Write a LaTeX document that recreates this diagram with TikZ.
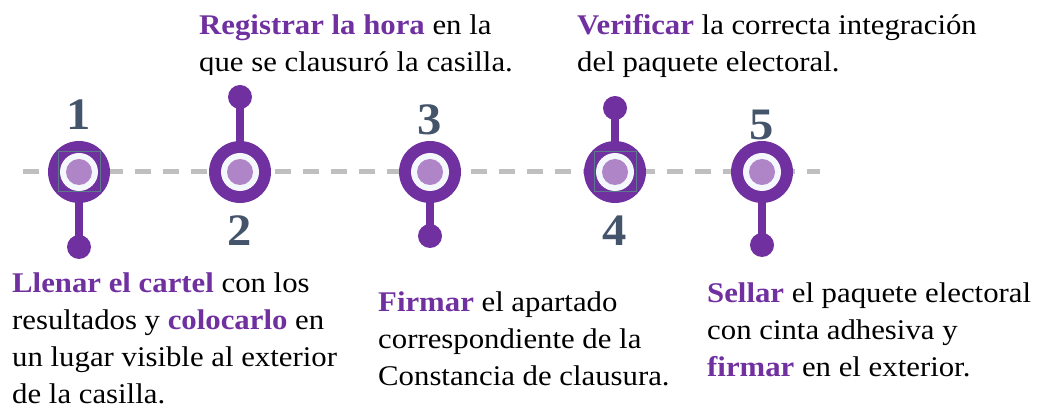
\documentclass[tikz,border=0pt]{standalone}
\usepackage{fontspec}
\setmainfont[FakeStretch=1.08]{Liberation Serif}
\usetikzlibrary{positioning}

\definecolor{morado}{HTML}{7030A0}
\definecolor{moradoclaro}{HTML}{AF85C7}
\definecolor{blancoaro}{HTML}{F4F7FC}
\definecolor{gristexto}{HTML}{44546A}
\definecolor{grislinea}{HTML}{BFBFBF}
\definecolor{marco}{HTML}{5A7A8A}

\newcommand{\resalta}[1]{\textbf{\color{morado}#1}}

\tikzset{
  hito/.style={circle, fill=morado, minimum size=62pt, inner sep=0pt},
  aro/.style={circle, fill=blancoaro, minimum size=38pt, inner sep=0pt},
  centro/.style={circle, fill=moradoclaro, minimum size=26pt, inner sep=0pt},
  punta/.style={circle, fill=morado, minimum size=24pt, inner sep=0pt},
  tallo/.style={draw=morado, line width=8pt, shorten <=-2pt, shorten >=-2pt},
  numero/.style={inner sep=0pt, text=gristexto, font=\fontsize{45}{45}\selectfont\bfseries},
  texto/.style={anchor=base west, inner sep=0pt, align=left, font=\fontsize{28.5}{36.7}\selectfont},
  marcobox/.style={draw=marco, line width=1pt, minimum width=42pt, minimum height=40pt, inner sep=0pt}
}

\begin{document}
\begin{tikzpicture}[x=1pt, y=1pt]
  \useasboundingbox (0,0) rectangle (1041,409);

  % Dashed time line
  \coordinate (inicio) at (23,237);
  \coordinate (fin) at (820,237);
  \draw[grislinea, line width=5pt, dash pattern=on 16pt off 12pt] (inicio) -- (fin);

  % Milestones
  \node[hito] (h1) at (79,237) {};
  \node[hito] (h2) at (240,237) {};
  \node[hito] (h3) at (430,237) {};
  \node[hito] (h4) at (615,237) {};
  \node[hito] (h5) at (762,237) {};

  % End dots and stems
  \node[punta] (p1) at (79,162) {};
  \node[punta] (p2) at (240,312) {};
  \node[punta] (p3) at (430,173) {};
  \node[punta] (p4) at (615,301) {};
  \node[punta] (p5) at (762,164) {};
  \draw[tallo] (h1) -- (p1);
  \draw[tallo] (h2) -- (p2);
  \draw[tallo] (h3) -- (p3);
  \draw[tallo] (h4) -- (p4);
  \draw[tallo] (h5) -- (p5);

  % Inner rings
  \node[aro] (a1) at (h1) {};
  \node[aro] (a2) at (h2) {};
  \node[aro] (a3) at (h3) {};
  \node[aro] (a4) at (h4) {};
  \node[aro] (a5) at (h5) {};
  \node[centro] (c1) at (h1) {};
  \node[centro] (c2) at (h2) {};
  \node[centro] (c3) at (h3) {};
  \node[centro] (c4) at (h4) {};
  \node[centro] (c5) at (h5) {};
  \node[marcobox] (m1) at (h1) {};
  \node[marcobox] (m4) at (h4) {};

  % Numbers
  \node[numero, above=11pt of h1] (n1) {1};
  \node[numero, below=12pt of h2] (n2) {2};
  \node[numero, above=6pt of h3] (n3) {3};
  \node[numero, below=12pt of h4] (n4) {4};
  \node[numero, above=1pt of h5] (n5) {5};

  % Labels (anchored at the baseline of their last line)
  \node[texto] (t1) at (12,5.9) {\resalta{Llenar el cartel} con los\\
    resultados y \resalta{colocarlo} en\\
    un lugar visible al exterior\\
    de la casilla.};
  \begin{scope}
    \clip (190,334) rectangle (560,409);
    \node[texto] (t2) at (199,337.3) {\resalta{Registrar la hora} en la\\
      que se clausuró la casilla.};
  \end{scope}
  \node[texto] (t3) at (378,23.6) {\resalta{Firmar} el apartado\\
    correspondiente de la\\
    Constancia de clausura.};
  \node[texto] (t4) at (577,337.3) {\resalta{Verificar} la correcta integración\\
    del paquete electoral.};
  \node[texto] (t5) at (707,32.6) {\resalta{Sellar} el paquete electoral\\
    con cinta adhesiva y\\
    \resalta{firmar} en el exterior.};
\end{tikzpicture}
\end{document}
